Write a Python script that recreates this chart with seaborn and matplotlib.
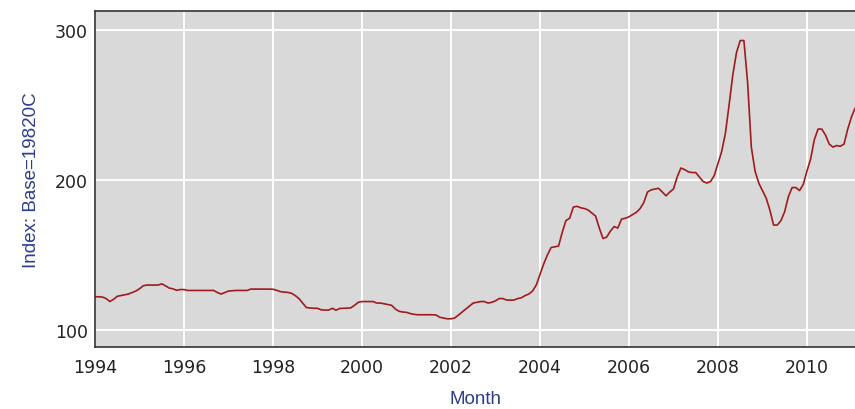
import numpy as np
import pandas as pd
import matplotlib
matplotlib.use("Agg")
import matplotlib.pyplot as plt
import seaborn as sns

# Monthly index values, Jan 1994 .. Feb 2011
start_year = 1994
v1994 = [122.2, 122.2, 122.0, 121.0, 119.0, 120.5, 122.5, 123.0, 123.5, 124.0, 125.0, 126.0]
v1995 = [127.5, 129.5, 130.0, 130.0, 130.0, 130.0, 130.8, 129.5, 128.0, 127.5, 126.5, 127.0]
v1996 = [127.0, 126.4, 126.4, 126.4, 126.4, 126.4, 126.4, 126.4, 126.4, 125.0, 124.0, 125.0]
v1997 = [126.0, 126.2, 126.4, 126.4, 126.4, 126.4, 127.3, 127.3, 127.3, 127.3, 127.3, 127.3]
v1998 = [127.2, 126.5, 125.6, 125.3, 125.1, 124.5, 123.0, 121.0, 118.0, 115.0, 114.7, 114.5]
v1999 = [114.5, 113.5, 113.3, 113.3, 114.5, 113.2, 114.4, 114.5, 114.6, 114.8, 116.5, 118.5]
v2000 = [119.0, 119.0, 119.0, 119.0, 118.0, 118.0, 117.5, 117.0, 116.5, 114.0, 112.5, 112.0]
v2001 = [111.8, 111.0, 110.5, 110.2, 110.2, 110.2, 110.2, 110.2, 110.0, 108.5, 108.0, 107.5]
v2002 = [107.5, 108.0, 110.0, 112.0, 114.0, 116.0, 118.0, 118.5, 119.0, 119.0, 118.0, 118.5]
v2003 = [119.5, 121.0, 121.0, 120.0, 120.0, 120.0, 121.0, 121.5, 123.0, 124.0, 126.0, 130.0]
v2004 = [137.0, 144.0, 150.0, 155.0, 155.5, 156.0, 165.0, 173.0, 174.5, 182.0, 182.5, 181.5]
v2005 = [181.0, 180.0, 178.0, 176.0, 168.0, 161.0, 162.0, 166.0, 169.0, 168.0, 174.0, 174.5]
v2006 = [175.5, 177.0, 178.5, 181.0, 185.0, 192.0, 193.5, 194.0, 194.5, 192.0, 189.5, 192.0]
v2007 = [194.0, 202.0, 208.0, 207.0, 205.5, 205.0, 205.0, 202.0, 199.0, 198.0, 199.0, 203.0]
v2008 = [211.0, 219.0, 231.0, 250.0, 270.0, 285.0, 293.0, 293.0, 265.0, 222.0, 206.0, 198.0]
v2009 = [193.0, 188.0, 180.0, 170.0, 170.0, 173.0, 179.0, 189.0, 195.0, 195.0, 193.0, 197.0]
v2010 = [206.0, 214.0, 227.0, 234.0, 234.0, 230.0, 224.0, 222.0, 223.0, 222.5, 224.0, 234.0]
v2011 = [242.0, 248.0]

values = (v1994 + v1995 + v1996 + v1997 + v1998 + v1999 + v2000 + v2001 + v2002
          + v2003 + v2004 + v2005 + v2006 + v2007 + v2008 + v2009 + v2010 + v2011)
x_ticks = [1994, 1996, 1998, 2000, 2002, 2004, 2006, 2008, 2010]
y_ticks = [100, 200, 300]

df = pd.DataFrame({
    "month": start_year + np.arange(len(values)) / 12.0,
    "index": values,
})

sns.set_style("whitegrid", {
    "axes.facecolor": "#d9d9d9",
    "grid.color": "white",
    "axes.edgecolor": "#333333",
})
plt.rcParams["font.family"] = ["DejaVu Sans"]

fig = plt.figure(figsize=(8.55, 4.1), dpi=100)
ax = fig.add_axes([95 / 855, 1 - 348 / 410, 1 - 95 / 855, (348 - 12) / 410])

sns.lineplot(data=df, x="month", y="index", ax=ax, color="#a01a1e", linewidth=1.2)

ax.set_xlim(1994, 2011.08)
ax.set_ylim(88.7, 312.7)
ax.set_xticks(x_ticks)
ax.set_yticks(y_ticks)
ax.grid(True, color="white", linewidth=1.4)
ax.spines["right"].set_visible(False)
for s in ["left", "bottom", "top"]:
    ax.spines[s].set_linewidth(1.2)
    ax.spines[s].set_color("#333333")
ax.tick_params(axis="both", which="major", labelsize=12.5, colors="#222222",
               width=1, direction="out")
ax.tick_params(axis="y", length=4.5, pad=0.5)
ax.tick_params(axis="x", length=6, pad=2)

lab_font = {"family": ["Liberation Sans", "DejaVu Sans"], "size": 13.5, "color": "#2b3d8f"}
ax.set_xlabel("Month", fontdict=lab_font, labelpad=10)
ax.set_ylabel("Index: Base=19820C", fontdict=lab_font, labelpad=11)

fig.savefig("out.png", dpi=100)
